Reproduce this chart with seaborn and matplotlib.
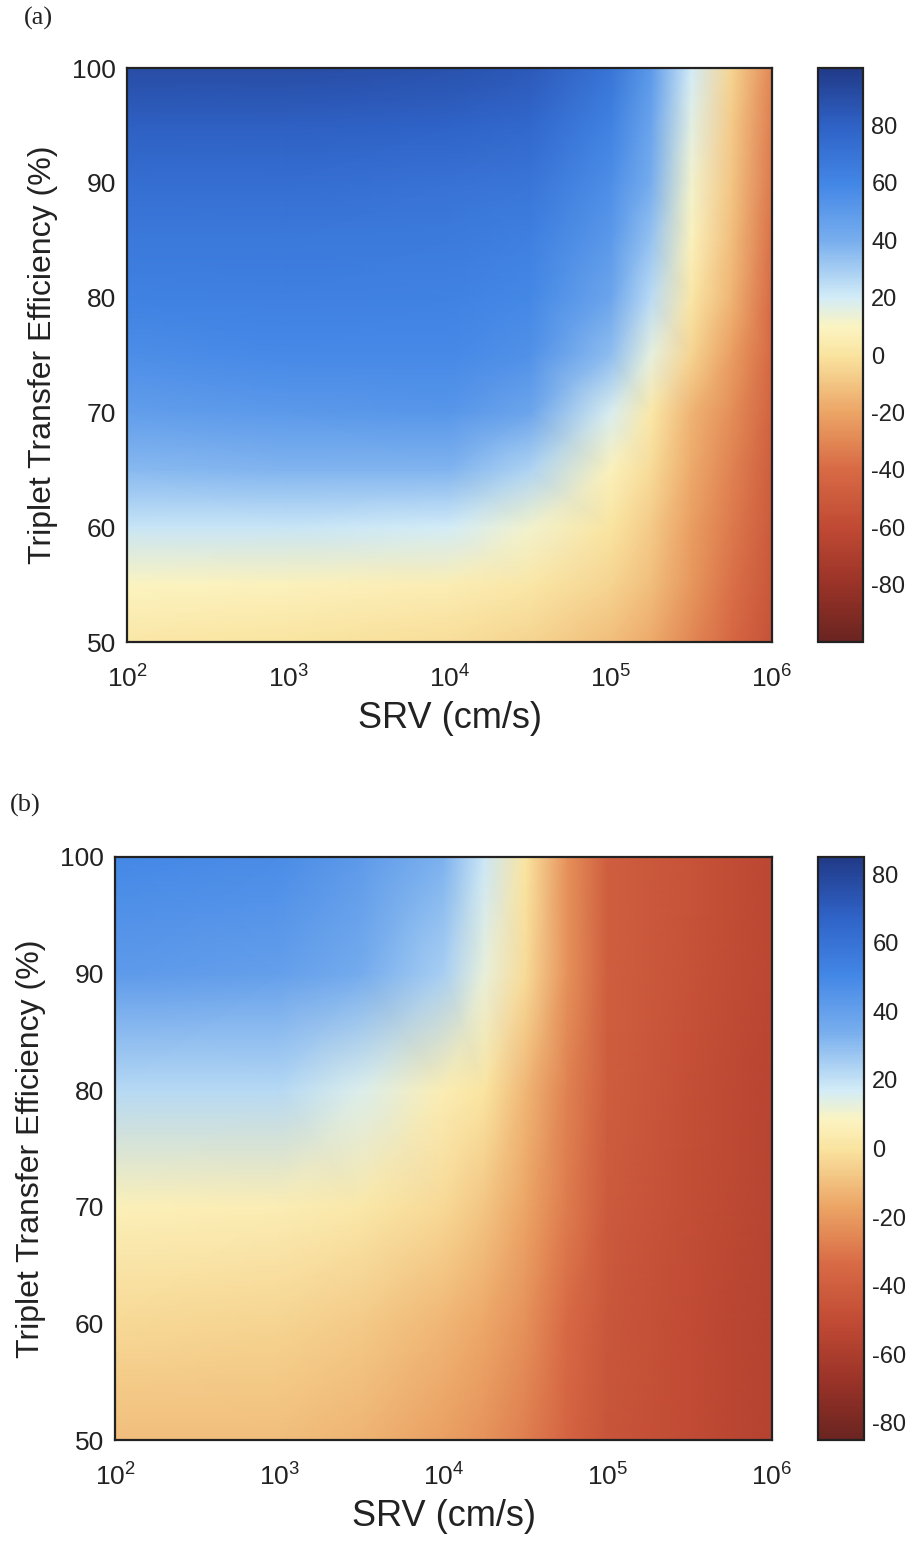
import numpy as np
import matplotlib
matplotlib.use("Agg")
import matplotlib.pyplot as plt
import seaborn as sns
from matplotlib.colors import LinearSegmentedColormap
from matplotlib.ticker import LogLocator, MultipleLocator, NullFormatter

# ---------------- data ----------------
# panel (a)
a_log_srv = [2, 3, 4, 4.5, 5, 5.25, 5.5, 5.75, 6]
a_eff = [50, 55, 60, 65, 70, 75, 80, 85, 90, 95, 100]
a_vals = [
    [2, 0, -2, -5, -12, -18, -30, -42, -55],
    [10, 8, 6, 2, -5, -12, -25, -38, -52],
    [22, 22, 20, 12, 0, -8, -22, -35, -50],
    [36, 38, 38, 28, 8, -3, -18, -32, -48],
    [48, 50, 52, 44, 18, 3, -15, -28, -45],
    [56, 58, 58, 54, 35, 15, -5, -22, -42],
    [62, 63, 62, 59, 44, 25, 2, -15, -40],
    [67, 67, 66, 63, 50, 33, 8, -12, -38],
    [73, 73, 71, 69, 56, 40, 12, -10, -35],
    [81, 81, 79, 76, 62, 45, 16, -8, -33],
    [90, 90, 88, 84, 70, 50, 20, -5, -30],
]
a_range = (-100, 100)
a_cbar_ticks = [-80, -60, -40, -20, 0, 20, 40, 60, 80]

# panel (b)
b_log_srv = [2, 3, 3.5, 4, 4.25, 4.5, 4.75, 5, 5.5, 6]
b_eff = [50, 60, 70, 80, 90, 100]
b_vals = [
    [-10, -10, -13, -18, -22, -28, -37, -45, -50, -56],
    [-3, -4, -7, -12, -16, -23, -34, -44, -50, -56],
    [6, 5, 2, -3, -8, -17, -29, -42, -49, -55],
    [22, 22, 15, 5, 0, -12, -27, -41, -48, -54],
    [42, 40, 35, 25, 12, -2, -22, -40, -47, -53],
    [50, 48, 42, 33, 18, 0, -22, -40, -46, -53],
]
b_range = (-85, 85)
b_cbar_ticks = [-80, -60, -40, -20, 0, 20, 40, 60, 80]

x_ticks = [1e2, 1e3, 1e4, 1e5, 1e6]
y_ticks = [50, 60, 70, 80, 90, 100]
x_label = "SRV (cm/s)"
y_label = "Triplet Transfer Efficiency (%)"
panel_labels = ["(a)", "(b)"]

# ---------------- style ----------------
sns.set_theme(style="ticks")
plt.rcParams["font.family"] = ["Liberation Sans", "DejaVu Sans"]
plt.rcParams["mathtext.fontset"] = "custom"
plt.rcParams["mathtext.rm"] = "Liberation Sans"
plt.rcParams["mathtext.it"] = "Liberation Sans"
plt.rcParams["axes.unicode_minus"] = False

cmap = LinearSegmentedColormap.from_list(
    "rdylbu_custom",
    [
        (0.00, "#6a2420"),
        (0.10, "#9a3328"),
        (0.20, "#c04a34"),
        (0.30, "#d86a45"),
        (0.40, "#eca565"),
        (0.50, "#fae4a0"),
        (0.55, "#fbf4c2"),
        (0.60, "#d3ecf7"),
        (0.70, "#78aeee"),
        (0.80, "#4286e6"),
        (0.90, "#2f62c6"),
        (1.00, "#213a88"),
    ],
)

fig = plt.figure(figsize=(9.14, 15.49), dpi=100)

W, H = 914, 1549
def rect(l, t, r, b):
    return [l / W, 1 - b / H, (r - l) / W, (b - t) / H]

panels = [
    dict(ax=rect(127, 68, 772, 642), cax=rect(818, 68, 863, 642),
         lx=a_log_srv, ly=a_eff, z=a_vals, rng=a_range, ct=a_cbar_ticks,
         lab=panel_labels[0], lab_xy=(24, 18)),
    dict(ax=rect(115, 857, 772, 1440), cax=rect(818, 857, 864, 1440),
         lx=b_log_srv, ly=b_eff, z=b_vals, rng=b_range, ct=b_cbar_ticks,
         lab=panel_labels[1], lab_xy=(10, 805)),
]

for p in panels:
    ax = fig.add_axes(p["ax"])
    cax = fig.add_axes(p["cax"])
    X, Y = np.meshgrid(10.0 ** np.asarray(p["lx"]), np.asarray(p["ly"], dtype=float))
    Z = np.asarray(p["z"], dtype=float)
    mesh = ax.pcolormesh(X, Y, Z, shading="gouraud", cmap=cmap,
                         vmin=p["rng"][0], vmax=p["rng"][1], rasterized=True)
    ax.set_xscale("log")
    ax.set_xlim(1e2, 1e6)
    ax.set_ylim(50, 100)
    ax.set_xticks(x_ticks)
    ax.xaxis.set_minor_locator(LogLocator(base=10, subs=np.arange(2, 10), numticks=20))
    ax.xaxis.set_minor_formatter(NullFormatter())
    ax.set_yticks(y_ticks)
    ax.yaxis.set_minor_locator(MultipleLocator(2.5))
    ax.tick_params(which="both", direction="in", top=True, right=True,
                   colors="#222222", labelcolor="#222222", width=1.2)
    ax.tick_params(which="major", length=7, labelsize=19)
    ax.tick_params(axis="x", which="major", pad=17)
    ax.tick_params(axis="y", which="major", pad=8)
    ax.tick_params(which="minor", length=4)
    ax.set_xlabel(x_label, fontsize=26, color="#222222", labelpad=6)
    ax.set_ylabel(y_label, fontsize=23, color="#222222", labelpad=10)
    for s in ax.spines.values():
        s.set_linewidth(1.6)
        s.set_color("#222222")

    cb = fig.colorbar(mesh, cax=cax)
    cb.set_ticks(p["ct"])
    cb.ax.tick_params(direction="in", length=6, width=1.2, labelsize=17,
                      colors="#222222", labelcolor="#222222", pad=6)
    cb.outline.set_linewidth(1.6)
    cb.outline.set_edgecolor("#222222")

    fig.text(p["lab_xy"][0] / W, 1 - p["lab_xy"][1] / H, p["lab"],
             fontsize=19, family=["Liberation Serif", "DejaVu Serif"],
             ha="left", va="center", color="#222222")

fig.savefig("out.png", dpi=100)
